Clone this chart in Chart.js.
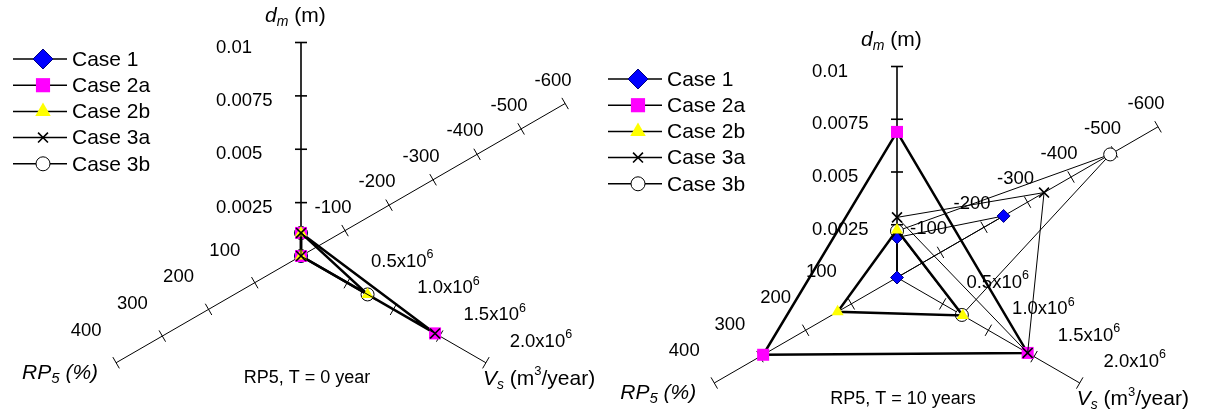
<!DOCTYPE html>
<html>
<head>
<meta charset="utf-8">
<script src="https://cdn.jsdelivr.net/npm/chart.js@4.4.1/dist/chart.umd.min.js"></script>
<style>
  html, body { margin: 0; padding: 0; background: #fff; }
  #wrap { position: relative; width: 1210px; height: 414px; overflow: hidden; }
  canvas { position: absolute; top: 0; }
</style>
</head>
<body>
<div id="wrap">
  <canvas id="chartT0" width="603" height="414" style="left:0"></canvas>
  <canvas id="chartT10" width="607" height="414" style="left:603px"></canvas>
</div>
<script>
const caseNames = ['Case 1', 'Case 2a', 'Case 2b', 'Case 3a', 'Case 3b'];

// T = 0 year
const dmT0 = [0.00108, 0.00108, 0.00108, 0.00108, 0.00108];
const vsT0 = [0, 1.45e6, 0.72e6, 1.45e6, 0.72e6];
const rpT0 = [0, 0, 0, 0, 0];

// T = 10 years
const dmT10 = [0.0019, 0.0069, 0.00225, 0.00285, 0.0022];
const vsT10 = [0, 1.43e6, 0.72e6, 1.43e6, 0.71e6];
const rpT10 = [-245, 293, 130, -338, -490];

// axis ticks
const dmTicks = [0.0025, 0.005, 0.0075, 0.01];
const dmTickLabels = ['0.0025', '0.005', '0.0075', '0.01'];
const vsTicks = [0.5e6, 1.0e6, 1.5e6, 2.0e6];
const vsTickLabels = ['0.5x10^6', '1.0x10^6', '1.5x10^6', '2.0x10^6'];
const rpTicks = [-600, -500, -400, -300, -200, -100, 100, 200, 300, 400];
const rpTickLabels = ['-600', '-500', '-400', '-300', '-200', '-100', '100', '200', '300', '400'];

// geometry of the three axes (degrees, maths orientation)
const AXIS_ANGLE = { dm: 90, vs: -30, rp: 210 };
const DM_SPAN = 0.01, VS_SPAN = 2e6, RP_POS_SPAN = 400, RP_NEG_SPAN = 420;

const FONT = '"Liberation Sans", Arial, sans-serif';

const caseStyles = [
  { pointStyle: 'rectRot',  fill: '#0000ff', border: '#000080', pointBorder: 1,   radius: 6.5, legendRadius: 10, lineWidth: 1,   order: 4 },
  { pointStyle: 'rect',     fill: '#ff00ff', border: '#ff00ff', pointBorder: 0,   radius: 8.5, legendRadius: 10, lineWidth: 2.5, order: 3 },
  { pointStyle: 'triangle', fill: '#ffff00', border: '#ffff00', pointBorder: 0,   radius: 7,   legendRadius: 9,  lineWidth: 2.5, order: 2 },
  { pointStyle: 'crossRot', fill: '#000000', border: '#000000', pointBorder: 1.6, radius: 7,   legendRadius: 7,  lineWidth: 1,   order: 1 },
  { pointStyle: 'circle',   fill: '#ffffff', border: '#000000', pointBorder: 1,   radius: 6.5, legendRadius: 7,  lineWidth: 1,   order: 5 }
];

function norm(axis, v) {
  if (axis === 'dm') return v / DM_SPAN;
  if (axis === 'vs') return v / VS_SPAN;
  return v >= 0 ? v / RP_POS_SPAN : v / RP_NEG_SPAN;
}

function toXY(axis, v) {
  const a = AXIS_ANGLE[axis] * Math.PI / 180;
  const r = norm(axis, v);
  return { x: r * Math.cos(a), y: r * Math.sin(a) };
}

function buildDatasets(dm, vs, rp) {
  return caseNames.map((name, i) => {
    const st = caseStyles[i];
    return {
      label: name,
      data: [toXY('dm', dm[i]), toXY('vs', vs[i]), toXY('rp', rp[i]), toXY('dm', dm[i])],
      showLine: true,
      tension: 0,
      borderColor: '#000',
      borderWidth: st.lineWidth,
      pointStyle: st.pointStyle,
      pointRadius: [st.radius, st.radius, st.radius, 0],
      pointBackgroundColor: st.fill,
      pointBorderColor: st.border,
      pointBorderWidth: st.pointBorder,
      order: st.order
    };
  });
}

function pix(chart, p) {
  return { x: chart.scales.x.getPixelForValue(p.x), y: chart.scales.y.getPixelForValue(p.y) };
}

// draw a run of text pieces: [text, {italic, size, dy}]
function richText(ctx, parts, x, cy, align) {
  let total = 0;
  parts.forEach(([t, o]) => {
    ctx.font = (o.italic ? 'italic ' : '') + o.size + 'px ' + FONT;
    total += ctx.measureText(t).width;
  });
  let cx = align === 'center' ? x - total / 2 : x;
  ctx.textBaseline = 'middle';
  ctx.textAlign = 'left';
  ctx.fillStyle = '#000';
  parts.forEach(([t, o]) => {
    ctx.font = (o.italic ? 'italic ' : '') + o.size + 'px ' + FONT;
    ctx.fillText(t, cx, cy + (o.dy || 0));
    cx += ctx.measureText(t).width;
  });
}

function labelParts(str, size) {
  const [base, sup] = str.split('^');
  const parts = [[base, { size: size }]];
  if (sup) parts.push([sup, { size: 12.5, dy: -7 }]);
  return parts;
}

function tickMark(ctx, p, angleDeg, len) {
  const a = angleDeg * Math.PI / 180;
  const nx = Math.sin(a), ny = Math.cos(a); // perpendicular on screen
  ctx.beginPath();
  ctx.moveTo(p.x - nx * len / 2, p.y - ny * len / 2);
  ctx.lineTo(p.x + nx * len / 2, p.y + ny * len / 2);
  ctx.stroke();
}

const starAxes = {
  id: 'starAxes',
  beforeDatasetsDraw(chart) {
    const ctx = chart.ctx;
    const c = pix(chart, { x: 0, y: 0 });
    ctx.save();
    ctx.strokeStyle = '#000';

    // dm axis
    const top = pix(chart, toXY('dm', DM_SPAN));
    ctx.lineWidth = 1.6;
    ctx.beginPath(); ctx.moveTo(c.x, c.y); ctx.lineTo(top.x, top.y); ctx.stroke();
    dmTicks.forEach((v, i) => {
      const p = pix(chart, toXY('dm', v));
      tickMark(ctx, p, AXIS_ANGLE.dm, 12);
      richText(ctx, [[dmTickLabels[i], { size: 18.5 }]], c.x - 85, p.y + 5, 'left');
    });

    // Vs axis
    ctx.lineWidth = 1;
    const vEnd = pix(chart, toXY('vs', VS_SPAN));
    ctx.beginPath(); ctx.moveTo(c.x, c.y); ctx.lineTo(vEnd.x, vEnd.y); ctx.stroke();
    vsTicks.forEach((v, i) => {
      const p = pix(chart, toXY('vs', v));
      tickMark(ctx, p, AXIS_ANGLE.vs, 13);
      richText(ctx, labelParts(vsTickLabels[i], 18.5), p.x + 55, p.y - 21, 'center');
    });

    // RP5 axis, negative values continue past the centre
    const rA = pix(chart, toXY('rp', rpTicks[0]));
    const rB = pix(chart, toXY('rp', rpTicks[rpTicks.length - 1]));
    ctx.beginPath(); ctx.moveTo(rA.x, rA.y); ctx.lineTo(rB.x, rB.y); ctx.stroke();
    rpTicks.forEach((v, i) => {
      const p = pix(chart, toXY('rp', v));
      tickMark(ctx, p, AXIS_ANGLE.rp, 13);
      if (v > 0) richText(ctx, [[rpTickLabels[i], { size: 18.5 }]], p.x - 30, p.y - 32, 'center');
      else richText(ctx, [[rpTickLabels[i], { size: 18.5 }]], p.x - 12, p.y - 23, 'center');
    });

    // axis titles
    richText(ctx, [['d', { italic: true, size: 21 }], ['m', { italic: true, size: 14, dy: 6 }], [' (m)', { size: 21 }]],
      c.x - 36, top.y - 26, 'left');
    richText(ctx, [['V', { italic: true, size: 21 }], ['s', { italic: true, size: 14, dy: 6 }], [' (m', { size: 21 }],
      ['3', { size: 13, dy: -7 }], ['/year)', { size: 21 }]], vEnd.x - 3, vEnd.y + 16, 'left');
    richText(ctx, [['RP', { italic: true, size: 21 }], ['5', { italic: true, size: 15, dy: 6 }], [' (%)', { italic: true, size: 21 }]],
      rB.x - 94, rB.y + 10, 'left');
    ctx.restore();
  },
  afterDraw(chart, args, opts) {
    const ctx = chart.ctx;
    const c = pix(chart, { x: 0, y: 0 });
    ctx.save();
    richText(ctx, [[opts.caption, { size: 18 }]], c.x + 6, c.y + 122, 'center');

    // legend: line with marker in the middle
    caseNames.forEach((name, i) => {
      const st = caseStyles[i];
      const y = opts.legendY + i * 26.2;
      ctx.strokeStyle = '#000';
      ctx.lineWidth = 1.5;
      ctx.beginPath(); ctx.moveTo(opts.legendX, y); ctx.lineTo(opts.legendX + 54, y); ctx.stroke();
      ctx.fillStyle = st.fill;
      ctx.strokeStyle = st.border;
      ctx.lineWidth = st.pointBorder || 0.01;
      Chart.helpers.drawPoint(ctx, {
        pointStyle: st.pointStyle, radius: st.legendRadius, rotation: 0, borderWidth: st.pointBorder
      }, opts.legendX + 30, y);
      richText(ctx, [[name, { size: 21 }]], opts.legendX + 59, y + 1, 'left');
    });
    ctx.restore();
  }
};

function makeChart(id, dm, vs, rp, view) {
  const canvas = document.getElementById(id);
  const w = canvas.width, h = canvas.height;
  return new Chart(canvas, {
    type: 'scatter',
    data: { datasets: buildDatasets(dm, vs, rp) },
    options: {
      responsive: false,
      devicePixelRatio: 1,
      animation: false,
      events: [],
      layout: { padding: 0, autoPadding: false },
      scales: {
        x: { type: 'linear', display: false, bounds: 'data', min: -view.cx / view.R, max: (w - view.cx) / view.R },
        y: { type: 'linear', display: false, bounds: 'data', min: -(h - view.cy) / view.R, max: view.cy / view.R }
      },
      plugins: {
        legend: { display: false },
        tooltip: { enabled: false },
        starAxes: { caption: view.caption, legendX: view.legendX, legendY: view.legendY }
      }
    },
    plugins: [starAxes]
  });
}

makeChart('chartT0', dmT0, vsT0, rpT0,
  { cx: 301, cy: 256, R: 213.5, legendX: 13, legendY: 59, caption: 'RP5, T = 0 year' });
makeChart('chartT10', dmT10, vsT10, rpT10,
  { cx: 294, cy: 277.5, R: 211, legendX: 5, legendY: 79, caption: 'RP5, T = 10 years' });
</script>
</body>
</html>
